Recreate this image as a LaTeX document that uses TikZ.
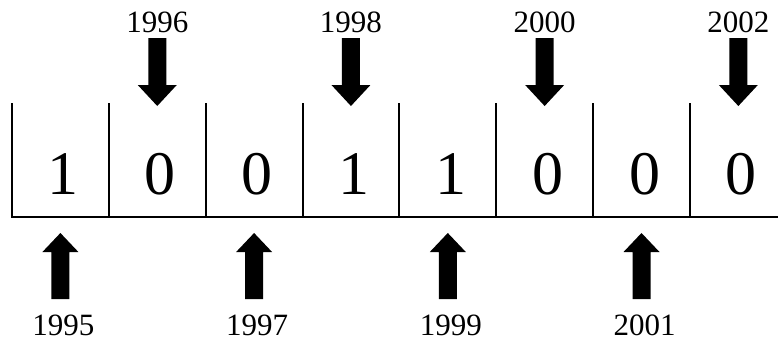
\documentclass[tikz,border=0pt]{standalone}
\usepackage{fontspec}
\setmainfont{Liberation Serif}
\begin{document}
\begin{tikzpicture}[x=1pt,y=-1pt,
  cellline/.style={line width=2pt},
  axisline/.style={line width=2.5pt},
  digit/.style={font=\fontsize{62}{62}\selectfont, anchor=base, inner sep=0pt},
  yearlabel/.style={font=\fontsize{31}{31}\selectfont, anchor=base, inner sep=0pt},
  blockarrow/.style={fill=black}]
\useasboundingbox (0,0) rectangle (778,343);
% cell separators
\foreach \i in {0,...,7}{
  \pgfmathsetmacro{\xx}{12+96.85*\i}
  \draw[cellline] (\xx,103) coordinate (t\i) -- (\xx,217) coordinate (b\i);
}
\coordinate (axisend) at (778,217);
\draw[axisline] ([xshift=-1pt]b0) -- (axisend);
% digits
\foreach \i/\d in {0/1,1/0,2/0,3/1,4/1,5/0,6/0,7/0}{
  \pgfmathsetmacro{\cx}{12+96.85*\i+48.4+3}
  \node[digit] (d\i) at (\cx,194) {\d};
}
% top arrows and labels
\foreach \i/\yr in {1/1996,3/1998,5/2000,7/2002}{
  \pgfmathsetmacro{\cx}{12+96.85*\i+48.4}
  \node[yearlabel] (y\yr) at (\cx,32.5) {\yr};
  \fill[blockarrow] (\cx-9,38) -- (\cx+9,38) -- (\cx+9,85) -- (\cx+19.5,85)
    -- (\cx,106) -- (\cx-19.5,85) -- (\cx-9,85) -- cycle;
}
% bottom arrows and labels
\foreach \i/\yr in {0/1995,2/1997,4/1999,6/2001}{
  \pgfmathsetmacro{\cx}{12+96.85*\i+48.4}
  \node[yearlabel] (y\yr) at (\cx+3,335) {\yr};
  \fill[blockarrow] (\cx,233) -- (\cx+18,252) -- (\cx+9,252) -- (\cx+9,299)
    -- (\cx-9,299) -- (\cx-9,252) -- (\cx-18,252) -- cycle;
}
\end{tikzpicture}
\end{document}
